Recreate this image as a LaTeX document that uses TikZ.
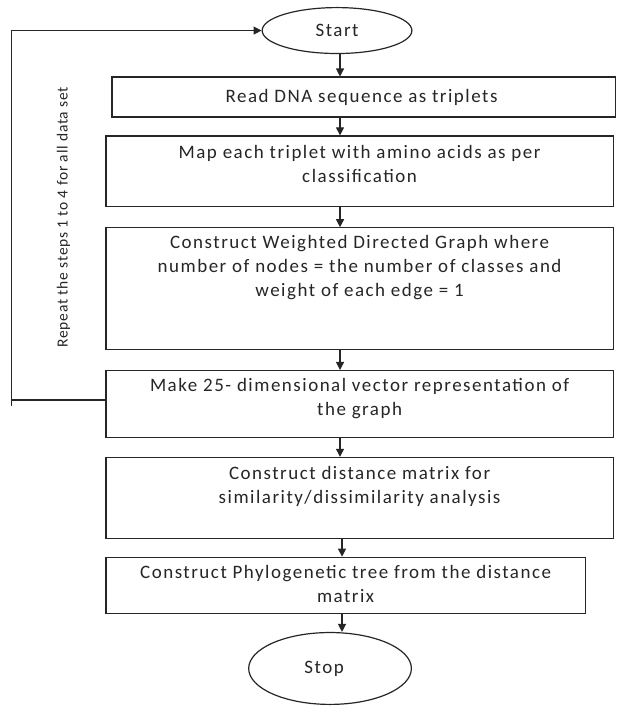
\documentclass[tikz,border=0pt]{standalone}
\usepackage{fontspec}
\setmainfont{Carlito}
\newfontfamily\bodyfont[LetterSpace=8]{Carlito}
\newfontfamily\labelfont[LetterSpace=5]{Carlito}
\usetikzlibrary{shapes.geometric,arrows.meta}
\begin{document}
\begin{tikzpicture}[x=1pt,y=-1pt,
  every path/.style={line width=1.2pt, draw=black!85},
  boxshape/.style={draw=black!85, line width=1.2pt, rectangle, inner sep=0pt, anchor=north west},
  ovalshape/.style={draw=black!85, line width=1.2pt, ellipse, inner sep=0pt},
  txt/.style={font=\bodyfont\fontsize{19}{24}\selectfont, align=center, inner sep=0pt, text=black!85},
  arr/.style={-{Triangle[width=8pt,length=8pt]}}
]
\useasboundingbox (0,0) rectangle (616,706);
\fill[white] (0,0) rectangle (616,706);

% terminals
\node[ovalshape, minimum width=150pt, minimum height=46pt] (start) at (337,30) {};
\node[txt] (starttxt) at (start) {Start};
\node[ovalshape, minimum width=163pt, minimum height=72pt] (stop) at (330,669) {};
\node[txt] (stoptxt) at ([xshift=-6pt]stop.center) {Stop};

% boxes
\node[boxshape, minimum width=504pt, minimum height=40pt] (read) at (111,76) {};
\node[boxshape, minimum width=508pt, minimum height=71pt] (map) at (105,135) {};
\node[boxshape, minimum width=508pt, minimum height=122pt] (wdg) at (105,227) {};
\node[boxshape, minimum width=508pt, minimum height=67pt] (make) at (105,370) {};
\node[boxshape, minimum width=508pt, minimum height=81pt] (dist) at (105,457) {};
\node[boxshape, minimum width=480pt, minimum height=56pt] (phylo) at (105,557) {};

% texts
\node[txt] (readtxt) at ([xshift=-2pt]read.center) {Read DNA sequence as triplets};
\node[txt, anchor=north] (maptxt) at ([yshift=-9pt]map.north) {Map each triplet with amino acids as per\\classification};
\node[txt, anchor=north] (wdgtxt) at ([yshift=-8pt]wdg.north) {Construct Weighted Directed Graph where\\number of nodes = the number of classes and\\weight of each edge = 1};
\node[txt, anchor=north] (maketxt) at ([yshift=-8pt]make.north) {Make 25- dimensional vector representation of\\the graph};
\node[txt, anchor=north] (disttxt) at ([yshift=-9pt]dist.north) {Construct distance matrix for\\similarity/dissimilarity analysis};
\node[txt, anchor=north] (phylotxt) at ([yshift=-8pt]phylo.north) {Construct Phylogenetic tree from the distance\\matrix};

% loop label
\node[font=\labelfont\fontsize{15.5}{17}\selectfont, inner sep=0pt, rotate=90, text=black!85] (looptxt) at (63,217) {Repeat the steps 1 to 4 for all data set};

% connectors
\coordinate (ax) at (340,0);
\draw[arr] (start.south -| ax) -- (read.north -| ax);
\draw[arr] (read.south -| ax) -- (map.north -| ax);
\draw[arr] (map.south -| ax) -- (wdg.north -| ax);
\draw[arr] (wdg.south -| ax) -- (make.north -| ax);
\draw[arr] (make.south -| ax) -- (dist.north -| ax);
\coordinate (bx) at (342,0);
\draw[arr] (dist.south -| bx) -- (phylo.north -| bx);
\draw[arr] (phylo.south -| bx) -- (stop.north -| bx);

% loop back
\coordinate (lc) at (11,400);
\draw (make.west |- lc) -- (lc) -- ++(0,6);
\draw[arr] (lc) |- (start.west);
\end{tikzpicture}
\end{document}
